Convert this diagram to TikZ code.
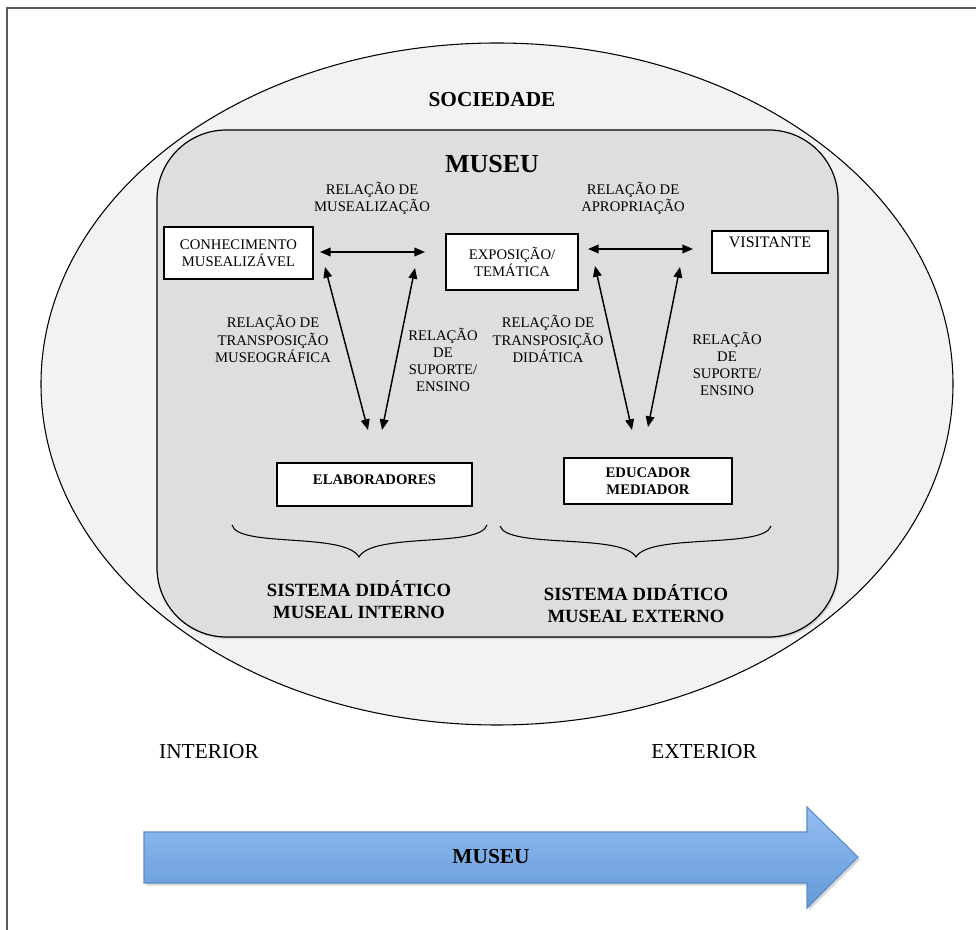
\documentclass[tikz,border=0pt]{standalone}
\usepackage{fontspec}
\setmainfont{Liberation Serif}
\usetikzlibrary{arrows.meta,shadows}
\definecolor{soc}{HTML}{F2F2F2}
\definecolor{mus}{HTML}{DEDEDE}
\definecolor{artop}{HTML}{93BEF1}
\definecolor{arbot}{HTML}{6399D8}
\definecolor{arline}{HTML}{5B8CC8}
\begin{document}
\begin{tikzpicture}[x=0.75pt, y=-0.75pt,
		box/.style={rectangle, draw, fill=white, line width=0.9pt, align=center, font=\fontsize{11}{12.5}\selectfont},
		lbl/.style={align=center, font=\fontsize{11}{12.8}\selectfont},
		big/.style={align=center, font=\fontsize{14}{16.5}\selectfont\bfseries},
		r/.style={{Triangle[length=8pt,width=6.5pt]}-{Triangle[length=8pt,width=6.5pt]}, line width=1.1pt},
		]
		\useasboundingbox (0,0) rectangle (976,930);
		\draw[line width=1.2pt, black!65] (7,930) -- (7,8) -- (976,8);
		
		%Areas
		\draw[fill=soc, line width=0.8pt]	(497,384)	ellipse [x radius=342pt, y radius=255.75pt];
		\draw[fill=mus, line width=0.9pt, rounded corners=52pt, drop shadow={opacity=0.25, shadow xshift=1pt, shadow yshift=-1.5pt}]
			(157,130) rectangle (838,637);
		
		%Nodes
		\node[font=\fontsize{16}{18}\selectfont\bfseries]	(soct)	at	(492,100)	{SOCIEDADE};
		\node[font=\fontsize{19.5}{22}\selectfont\bfseries]	(must)	at	(492,164)	{MUSEU};
		\node[box, minimum width=111.75pt, minimum height=39pt]	(conh)	at	(238.5,253)	{CONHECIMENTO\\MUSEALIZÁVEL};
		\node[box, minimum width=99pt, minimum height=42pt]	(expo)	at	(512,262)	{EXPOSIÇÃO/\\TEMÁTICA};
		\node[box, minimum width=87pt, minimum height=31.5pt, text height=8pt, text depth=14pt, font=\fontsize{12}{13}\selectfont]
			(visit)	at	(770,252)	{VISITANTE};
		\node[box, minimum width=146.25pt, minimum height=32.25pt, text height=8pt, text depth=8pt, font=\fontsize{11}{12.5}\selectfont\bfseries]
			(elab)	at	(374.5,484.5)	{ELABORADORES};
		\node[box, minimum width=126pt, minimum height=34.5pt, font=\fontsize{11}{12.5}\selectfont\bfseries]
			(educ)	at	(648,481)	{EDUCADOR\\MEDIADOR};
		
		\node[lbl]	(rmus)	at	(372,198.5)	{RELAÇÃO DE\\MUSEALIZAÇÃO};
		\node[lbl]	(rapr)	at	(633,198.5)	{RELAÇÃO DE\\APROPRIAÇÃO};
		\node[lbl]	(rtm)	at	(273,339)	{RELAÇÃO DE\\TRANSPOSIÇÃO\\MUSEOGRÁFICA};
		\node[lbl]	(rse1)	at	(443,360)	{RELAÇÃO\\DE\\SUPORTE/\\ENSINO};
		\node[lbl]	(rtd)	at	(548,339)	{RELAÇÃO DE\\TRANSPOSIÇÃO\\DIDÁTICA};
		\node[lbl]	(rse2)	at	(727,364)	{RELAÇÃO\\DE\\SUPORTE/\\ENSINO};
		
		\node[big]	(sint)	at	(359,600)	{SISTEMA DIDÁTICO\\MUSEAL INTERNO};
		\node[big]	(sext)	at	(636,604)	{SISTEMA DIDÁTICO\\MUSEAL EXTERNO};
		
		\node[font=\fontsize{16}{18}\selectfont]	(inte)	at	(209,752)	{INTERIOR};
		\node[font=\fontsize{16}{18}\selectfont]	(exte)	at	(704,752)	{EXTERIOR};
		
		%Arrow ends
		\coordinate (h1a) at (320,252);	\coordinate (h1b) at (425,252);
		\coordinate (h2a) at (588,249);	\coordinate (h2b) at (693,249);
		\coordinate (d1a) at (325,267);	\coordinate (d1b) at (368,430);
		\coordinate (d2a) at (415,268);	\coordinate (d2b) at (382,430);
		\coordinate (d3a) at (595,266);	\coordinate (d3b) at (632,430);
		\coordinate (d4a) at (680,267);	\coordinate (d4b) at (648,427);
		
		\draw[r]	(h1a)	--	(h1b);
		\draw[r]	(h2a)	--	(h2b);
		\draw[r]	(d1a)	--	(d1b);
		\draw[r]	(d2a)	--	(d2b);
		\draw[r]	(d3a)	--	(d3b);
		\draw[r]	(d4a)	--	(d4b);
		
		%Braces
		\draw[line width=0.8pt]	(232,525) .. controls (238,548) and (345,532) .. (359,557)
			.. controls (373,532) and (480,548) .. (487,525);
		\draw[line width=0.8pt]	(500,526) .. controls (507,549) and (622,533) .. (636,557)
			.. controls (650,533) and (764,549) .. (771,526);
		
		%Bottom arrow
		\draw[arline, line width=0.8pt, top color=artop, bottom color=arbot, drop shadow={opacity=0.3, shadow xshift=1.5pt, shadow yshift=-2pt}]
			(144,832) -- (807,832) -- (807,807) -- (858,857) -- (807,908) -- (807,883) -- (144,883) -- cycle;
		\node[font=\fontsize{16}{18}\selectfont\bfseries]	(armu)	at	(491,857)	{MUSEU};
	\end{tikzpicture}
\end{document}
